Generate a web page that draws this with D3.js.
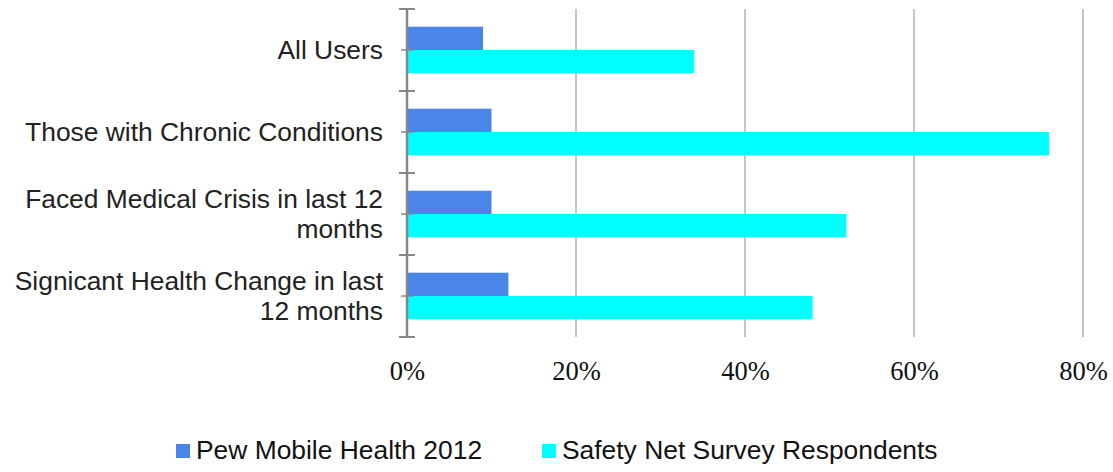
<!DOCTYPE html>
<html>
<head>
<meta charset="utf-8">
<script src="https://cdn.jsdelivr.net/npm/d3@7"></script>
<style>
  html, body { margin: 0; padding: 0; background: #fff; }
  svg { display: block; }
</style>
</head>
<body>
<svg id="chart" width="1113" height="472"></svg>
<script>
// Share of respondents, by group and source
const categories = [
  "All Users",
  "Those with Chronic Conditions",
  "Faced Medical Crisis in last 12 months",
  "Signicant Health Change in last 12 months"
];
const seriesNames = ["Pew Mobile Health 2012", "Safety Net Survey Respondents"];
const pewValues = [0.09, 0.10, 0.10, 0.12];
const safetyNetValues = [0.34, 0.76, 0.52, 0.48];
const xTicks = [0, 0.2, 0.4, 0.6, 0.8];
const seriesColors = ["#4a86e8", "#00ffff"];

const svg = d3.select("#chart");
const W = 1113, H = 472;
const plot = { left: 407, right: 1083, top: 9, bottom: 337 };
const labelFont = "'Liberation Sans', Arial, sans-serif";
const tickFont = "'Liberation Serif', 'Times New Roman', serif";
const textColor = "#222";

const x = d3.scaleLinear().domain([0, 0.8]).range([plot.left, plot.right]);
const y = d3.scaleBand().domain(categories).range([plot.top, plot.bottom]).padding(0);
const ySeries = d3.scaleBand().domain(seriesNames).range([0, y.bandwidth()])
  .paddingInner(0).paddingOuter(0.76);

const rows = categories.map((c, i) => ({
  category: c,
  values: [pewValues[i], safetyNetValues[i]]
}));

// vertical gridlines
svg.append("g").selectAll("line")
  .data(xTicks.filter(t => t > 0))
  .join("line")
  .attr("x1", d => x(d)).attr("x2", d => x(d))
  .attr("y1", plot.top).attr("y2", plot.bottom)
  .attr("stroke", "#b3b3b3").attr("stroke-width", 1.5);

// bars
const groups = svg.append("g").selectAll("g")
  .data(rows)
  .join("g")
  .attr("transform", d => `translate(0,${y(d.category)})`);

groups.selectAll("rect")
  .data(d => d.values.map((v, j) => ({ v, name: seriesNames[j], color: seriesColors[j] })))
  .join("rect")
  .attr("x", x(0))
  .attr("y", d => ySeries(d.name))
  .attr("width", d => x(d.v) - x(0))
  .attr("height", ySeries.bandwidth())
  .attr("fill", d => d.color);

// category axis line with crossing tick marks
const axisColor = "#868686";
svg.append("line")
  .attr("x1", x(0)).attr("x2", x(0))
  .attr("y1", plot.top).attr("y2", plot.bottom)
  .attr("stroke", axisColor).attr("stroke-width", 2.5);

const boundaries = categories.map(c => y(c)).concat([plot.bottom]);
svg.append("g").selectAll("line")
  .data(boundaries)
  .join("line")
  .attr("x1", x(0) - 8).attr("x2", x(0) + 8)
  .attr("y1", d => d).attr("y2", d => d)
  .attr("stroke", axisColor).attr("stroke-width", 2);

svg.append("g").selectAll("line")
  .data(categories)
  .join("line")
  .attr("x1", x(0) - 6).attr("x2", x(0) + 6)
  .attr("y1", d => y(d) + y.bandwidth() / 2)
  .attr("y2", d => y(d) + y.bandwidth() / 2)
  .attr("stroke", axisColor).attr("stroke-width", 1.5);

// category labels, wrapped to fit left of the axis
const maxLabelWidth = 375;
const lineHeight = 30;
const labelX = 383;
const labels = svg.append("g").selectAll("text")
  .data(categories)
  .join("text")
  .attr("text-anchor", "end")
  .attr("font-family", labelFont)
  .attr("font-size", 26.4)
  .attr("fill", textColor);

labels.each(function(c) {
  const text = d3.select(this);
  const words = c.split(" ");
  const lines = [];
  let current = [];
  const probe = text.append("tspan");
  words.forEach(w => {
    const trial = current.concat([w]).join(" ");
    probe.text(trial);
    if (probe.node().getComputedTextLength() > maxLabelWidth && current.length) {
      lines.push(current.join(" "));
      current = [w];
    } else {
      current.push(w);
    }
  });
  lines.push(current.join(" "));
  probe.remove();
  const cy = y(c) + y.bandwidth() / 2;
  const firstBaseline = cy - (lines.length - 1) * lineHeight / 2 + 9.3;
  lines.forEach((ln, k) => {
    text.append("tspan")
      .attr("x", labelX)
      .attr("y", firstBaseline + k * lineHeight)
      .text(ln);
  });
});

// value axis labels
const xAxis = d3.axisBottom(x)
  .tickValues(xTicks)
  .tickFormat(d3.format(".0%"))
  .tickSize(0)
  .tickPadding(0);
const gx = svg.append("g")
  .attr("transform", `translate(0,${plot.bottom})`)
  .call(xAxis);
gx.select(".domain").remove();
gx.selectAll("text")
  .attr("font-family", tickFont)
  .attr("font-size", 26.5)
  .attr("fill", "#111")
  .attr("dy", null)
  .attr("y", 43);

// legend
const legendItems = [
  { name: seriesNames[0], color: seriesColors[0], x: 176 },
  { name: seriesNames[1], color: seriesColors[1], x: 542 }
];
const legend = svg.append("g").selectAll("g")
  .data(legendItems)
  .join("g")
  .attr("transform", d => `translate(${d.x},0)`);
legend.append("rect")
  .attr("x", 0).attr("y", 444)
  .attr("width", 14).attr("height", 14)
  .attr("fill", d => d.color);
legend.append("text")
  .attr("x", 20).attr("y", 459.3)
  .attr("font-family", labelFont)
  .attr("font-size", 26.4)
  .attr("fill", "#111")
  .text(d => d.name);
</script>
</body>
</html>
